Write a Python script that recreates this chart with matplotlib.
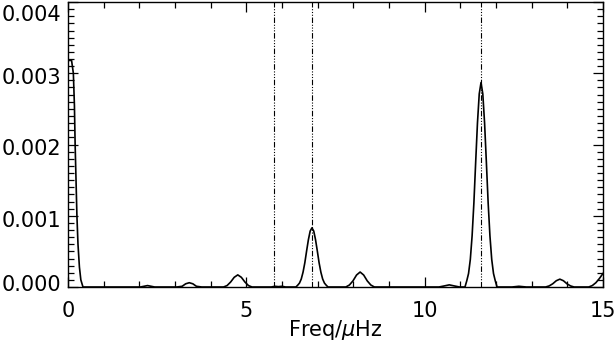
import matplotlib
matplotlib.use("Agg")
import matplotlib.pyplot as plt
import matplotlib.transforms as mtransforms
from matplotlib.ticker import FixedLocator, MultipleLocator, FormatStrFormatter

# power spectrum (freq in microHz)
freq = [
    0.00, 0.05, 0.10, 0.15, 0.18, 0.20, 0.23, 0.25, 0.28, 0.32, 0.36, 0.42,
    1.80, 2.03, 2.13, 2.23, 2.33, 2.43, 2.60,
    3.05, 3.20, 3.30, 3.40, 3.50, 3.60, 3.75,
    4.36, 4.46, 4.56, 4.66, 4.76, 4.86, 4.96, 5.06, 5.16,
    5.70, 5.80, 5.90, 6.00, 6.10,
    6.39, 6.44, 6.49, 6.54, 6.59, 6.64, 6.69, 6.74, 6.79, 6.84,
    6.89, 6.94, 6.99, 7.04, 7.09, 7.14, 7.19, 7.24, 7.29,
    7.79, 7.89, 7.99, 8.09, 8.19, 8.29, 8.39, 8.49, 8.59,
    10.40, 10.55, 10.69, 10.83, 10.98,
    11.13, 11.18, 11.23, 11.28, 11.33, 11.38, 11.43, 11.48, 11.53, 11.58,
    11.63, 11.68, 11.73, 11.78, 11.83, 11.88, 11.93, 11.98, 12.03,
    12.45, 12.64, 12.85,
    13.39, 13.49, 13.59, 13.69, 13.79, 13.89, 13.99, 14.09, 14.19,
    14.60, 14.70, 14.80, 14.90, 15.00,
]
power = [
    0.00318, 0.00318, 0.00318, 0.00300, 0.00255, 0.00200, 0.00140, 0.00100, 0.00060, 0.00028, 0.00010, 0.0,
    0.0, 0.0, 0.00001, 0.00002, 0.00001, 0.0, 0.0,
    0.0, 0.00001, 0.000045, 0.00006, 0.000045, 0.00001, 0.0,
    0.0, 0.00002, 0.00007, 0.000136, 0.00017, 0.000136, 0.00007, 0.00002, 0.0,
    0.0, 0.00001, 0.000005, 0.00001, 0.0,
    0.0, 0.000025, 0.000055, 0.000112, 0.000208, 0.00034, 0.000506, 0.000664, 0.000785, 0.00083,
    0.000785, 0.000664, 0.000506, 0.00034, 0.000208, 0.000112, 0.000055, 0.000025, 0.0,
    0.0, 0.000028, 0.000086, 0.000168, 0.00021, 0.000168, 0.000086, 0.000028, 0.0,
    0.0, 0.000015, 0.00003, 0.000015, 0.0,
    0.0, 0.000086, 0.000189, 0.000387, 0.000718, 0.00118, 0.00175, 0.0023, 0.00271, 0.00287,
    0.00271, 0.0023, 0.00175, 0.00118, 0.000718, 0.000387, 0.000189, 0.000086, 0.0,
    0.0, 0.00001, 0.0,
    0.0, 0.000015, 0.000045, 0.000088, 0.00011, 0.000088, 0.000045, 0.000015, 0.0,
    0.0, 0.00002, 0.00006, 0.00012, 0.00019,
]

# marked frequencies
marks = [5.78, 6.84, 11.58]

yticks = [0.000, 0.001, 0.002, 0.003, 0.004]
# IDL nudges the end labels inside the box (points, + is up)
ylabel_shift = [3, -2, -2, -2, -8]

fig = plt.figure(figsize=(6.15, 3.52), dpi=100)
ax = fig.add_axes([68 / 615, 1 - 287 / 352, 535 / 615, 285 / 352])

ax.plot(freq, power, color="black", lw=1.2)
for m in marks:
    ax.axvline(m, color="black", lw=0.8, ls=(0, (5, 1.5, 1, 1.5, 1, 1.5, 1, 1.5)))

ax.set_xlim(0, 15)
ax.set_ylim(0, 0.004)
ax.xaxis.set_major_locator(MultipleLocator(5))
ax.xaxis.set_minor_locator(MultipleLocator(1))
ax.yaxis.set_major_locator(FixedLocator(yticks))
ax.yaxis.set_minor_locator(MultipleLocator(0.0001))
ax.yaxis.set_major_formatter(FormatStrFormatter("%.3f"))

ax.tick_params(which="both", direction="in", top=True, right=True, labelsize=15)
ax.tick_params(which="major", length=7.5, width=0.9)
ax.tick_params(which="minor", length=4, width=0.9)
ax.tick_params(axis="x", which="major", pad=10)
ax.tick_params(axis="y", which="major", pad=5)
for s in ax.spines.values():
    s.set_linewidth(1.0)

for lab, dy in zip(ax.get_yticklabels(), ylabel_shift):
    lab.set_transform(lab.get_transform()
                      + mtransforms.ScaledTranslation(0, dy / 72, fig.dpi_scale_trans))

ax.set_xlabel(r"Freq/$\mu$Hz", fontsize=15, labelpad=-2)

fig.savefig("out.png", dpi=100)
